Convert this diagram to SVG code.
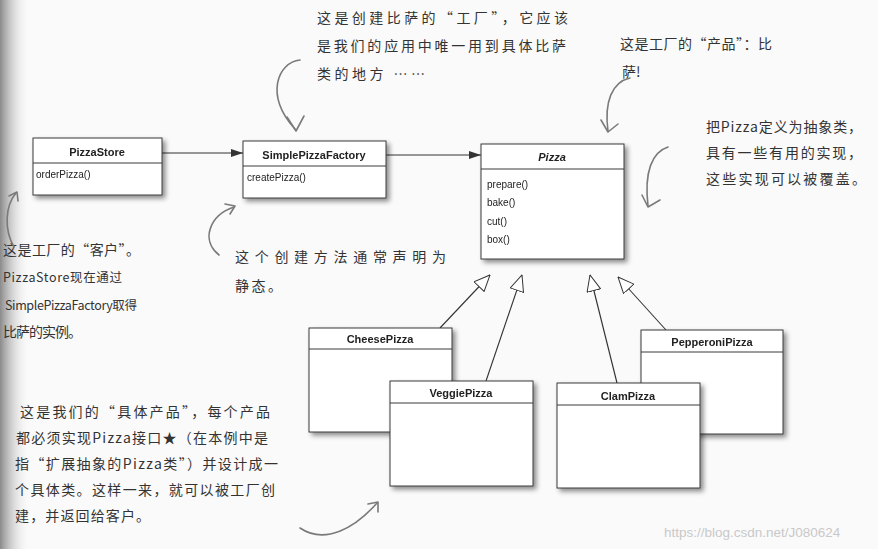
<svg xmlns="http://www.w3.org/2000/svg" width="878" height="549" viewBox="0 0 878 549">
<defs>
<style>
.box{fill:#fff;stroke:#3a3a3a;stroke-width:1}
.div{stroke:#3a3a3a;stroke-width:1}
.cn{font-family:"Liberation Sans",Arial,sans-serif;font-weight:bold;font-size:11px;fill:#222;text-anchor:middle}
.m{font-family:"Liberation Sans",Arial,sans-serif;font-size:10px;fill:#222}
.hw{font-family:"Noto Sans CJK SC",sans-serif;font-size:14px;fill:#333}
.hws{font-size:12.5px}
.edge{stroke:#333;stroke-width:1.1;fill:none}
.curve{stroke:#7a7a7a;stroke-width:1.6;fill:none;stroke-linecap:round;stroke-linejoin:round}
.wm{font-family:"Liberation Sans",Arial,sans-serif;font-size:13.5px;fill:#c9c9c9}
</style>
<filter id="sh" x="-10%" y="-10%" width="130%" height="130%">
<feGaussianBlur in="SourceAlpha" stdDeviation="2.5"/>
<feOffset dx="3" dy="3" result="b"/>
<feComponentTransfer><feFuncA type="linear" slope="0.45"/></feComponentTransfer>
<feMerge><feMergeNode/><feMergeNode in="SourceGraphic"/></feMerge>
</filter>
<linearGradient id="edgeG" x1="0" y1="0" x2="1" y2="0">
<stop offset="0" stop-color="#8a8a8a"/>
<stop offset="1" stop-color="#fafafa" stop-opacity="0"/>
</linearGradient>
<marker id="assoc" viewBox="0 0 12 8" refX="12" refY="4" markerWidth="12" markerHeight="8" markerUnits="userSpaceOnUse" orient="auto">
<path d="M0,0 L12,4 L0,8 Z" fill="#333"/>
</marker>
<marker id="gen" viewBox="0 0 17 15" refX="16.5" refY="7.5" markerWidth="17" markerHeight="15" markerUnits="userSpaceOnUse" orient="auto">
<path d="M0.5,0.5 L16.5,7.5 L0.5,14.5 Z" fill="#fff" stroke="#333" stroke-width="1"/>
</marker>
</defs>
<rect width="878" height="549" fill="#fafafa"/>
<rect width="30" height="549" fill="url(#edgeG)"/>

<g id="connectors">
<line class="edge" x1="162" y1="153" x2="243" y2="153" marker-end="url(#assoc)"/>
<line class="edge" x1="386" y1="155" x2="481" y2="155" marker-end="url(#assoc)"/>
<line class="edge" x1="440" y1="328" x2="490" y2="275" marker-end="url(#gen)"/>
<line class="edge" x1="486" y1="381" x2="522" y2="275" marker-end="url(#gen)"/>
<line class="edge" x1="617" y1="383" x2="590" y2="275" marker-end="url(#gen)"/>
<line class="edge" x1="666" y1="330" x2="618" y2="277" marker-end="url(#gen)"/>
</g>

<g id="PizzaStore" filter="url(#sh)">
<rect class="box" x="33" y="138" width="129" height="57"/>
<line class="div" x1="33" y1="163" x2="162" y2="163"/>
<text class="cn" x="97" y="156">PizzaStore</text>
<text class="m" x="36" y="178">orderPizza()</text>
</g>

<g id="SimplePizzaFactory" filter="url(#sh)">
<rect class="box" x="243" y="141" width="143" height="57"/>
<line class="div" x1="243" y1="166" x2="386" y2="166"/>
<text class="cn" x="314" y="159">SimplePizzaFactory</text>
<text class="m" x="247" y="181">createPizza()</text>
</g>

<g id="Pizza" filter="url(#sh)">
<rect class="box" x="481" y="144" width="143" height="115"/>
<line class="div" x1="481" y1="169" x2="624" y2="169"/>
<text class="cn" x="552" y="161" font-style="italic">Pizza</text>
<text class="m" x="487" y="188">prepare()</text>
<text class="m" x="487" y="206">bake()</text>
<text class="m" x="487" y="225">cut()</text>
<text class="m" x="487" y="243">box()</text>
</g>

<g id="CheesePizza" filter="url(#sh)">
<rect class="box" x="309" y="328" width="143" height="104"/>
<line class="div" x1="309" y1="349" x2="452" y2="349"/>
<text class="cn" x="380" y="343">CheesePizza</text>
</g>

<g id="PepperoniPizza" filter="url(#sh)">
<rect class="box" x="641" y="330" width="142" height="104"/>
<line class="div" x1="641" y1="352" x2="783" y2="352"/>
<text class="cn" x="712" y="346">PepperoniPizza</text>
</g>

<g id="VeggiePizza" filter="url(#sh)">
<rect class="box" x="390" y="381" width="143" height="105"/>
<line class="div" x1="390" y1="403" x2="533" y2="403"/>
<text class="cn" x="461" y="397">VeggiePizza</text>
</g>

<g id="ClamPizza" filter="url(#sh)">
<rect class="box" x="557" y="383" width="143" height="105"/>
<line class="div" x1="557" y1="405" x2="700" y2="405"/>
<text class="cn" x="628" y="400">ClamPizza</text>
</g>

<g id="annotations">
<text class="hw" x="317" y="23" textLength="251" lengthAdjust="spacing">这是创建比萨的“工厂”，它应该</text>
<text class="hw" x="317" y="51" textLength="249" lengthAdjust="spacing">是我们的应用中唯一用到具体比萨</text>
<text class="hw" x="317" y="79" textLength="108" lengthAdjust="spacing">类的地方 ……</text>

<text class="hw" x="620" y="49" textLength="152" lengthAdjust="spacing">这是工厂的“产品”：比</text>
<text class="hw" x="622" y="77">萨!</text>

<text class="hw" x="706" y="132" textLength="156" lengthAdjust="spacing">把Pizza定义为抽象类，</text>
<text class="hw" x="706" y="158" textLength="156" lengthAdjust="spacing">具有一些有用的实现，</text>
<text class="hw" x="706" y="184" textLength="160" lengthAdjust="spacing">这些实现可以被覆盖。</text>

<text class="hw" x="3" y="255" textLength="137" lengthAdjust="spacing">这是工厂的“客户”。</text>
<text class="hw hws" x="3" y="282" textLength="119" lengthAdjust="spacing">PizzaStore现在通过</text>
<text class="hw hws" x="5" y="310" textLength="132" lengthAdjust="spacing">SimplePizzaFactory取得</text>
<text class="hw" x="3" y="337" textLength="79" lengthAdjust="spacing">比萨的实例。</text>

<text class="hw" x="235" y="262" textLength="211" lengthAdjust="spacing">这个创建方法通常声明为</text>
<text class="hw" x="235" y="291" textLength="47" lengthAdjust="spacing">静态。</text>

<text class="hw" x="20" y="417" textLength="250" lengthAdjust="spacing">这是我们的“具体产品”，每个产品</text>
<text class="hw" x="16" y="443" textLength="252" lengthAdjust="spacing">都必须实现Pizza接口★（在本例中是</text>
<text class="hw" x="15" y="469" textLength="263" lengthAdjust="spacing">指“扩展抽象的Pizza类”）并设计成一</text>
<text class="hw" x="15" y="495" textLength="260" lengthAdjust="spacing">个具体类。这样一来，就可以被工厂创</text>
<text class="hw" x="15" y="521" textLength="135" lengthAdjust="spacing">建，并返回给客户。</text>

<path class="curve" d="M300,60 C278,62 264,96 295,129"/>
<path class="curve" d="M287,117 L296,131 L304,116"/>
<path class="curve" d="M630,78 C612,82 604,102 608,131"/>
<path class="curve" d="M601,120 L608,132 L618,124"/>
<path class="curve" d="M668,147 C652,152 644,172 648,206"/>
<path class="curve" d="M642,195 L648,207 L660,200"/>
<path class="curve" d="M14,247 C4,230 5,206 16,193"/>
<path class="curve" d="M9,196 L17,192 L18,201"/>
<path class="curve" d="M219,255 C200,240 210,215 234,207"/>
<path class="curve" d="M225,204 L235,206 L230,214"/>
<path class="curve" d="M300,528 C325,545 355,528 377,503"/>
<path class="curve" d="M368,504 L378,502 L378,512"/>
</g>

<text class="wm" x="664" y="537">https://blog.csdn.net/J080624</text>
</svg>
